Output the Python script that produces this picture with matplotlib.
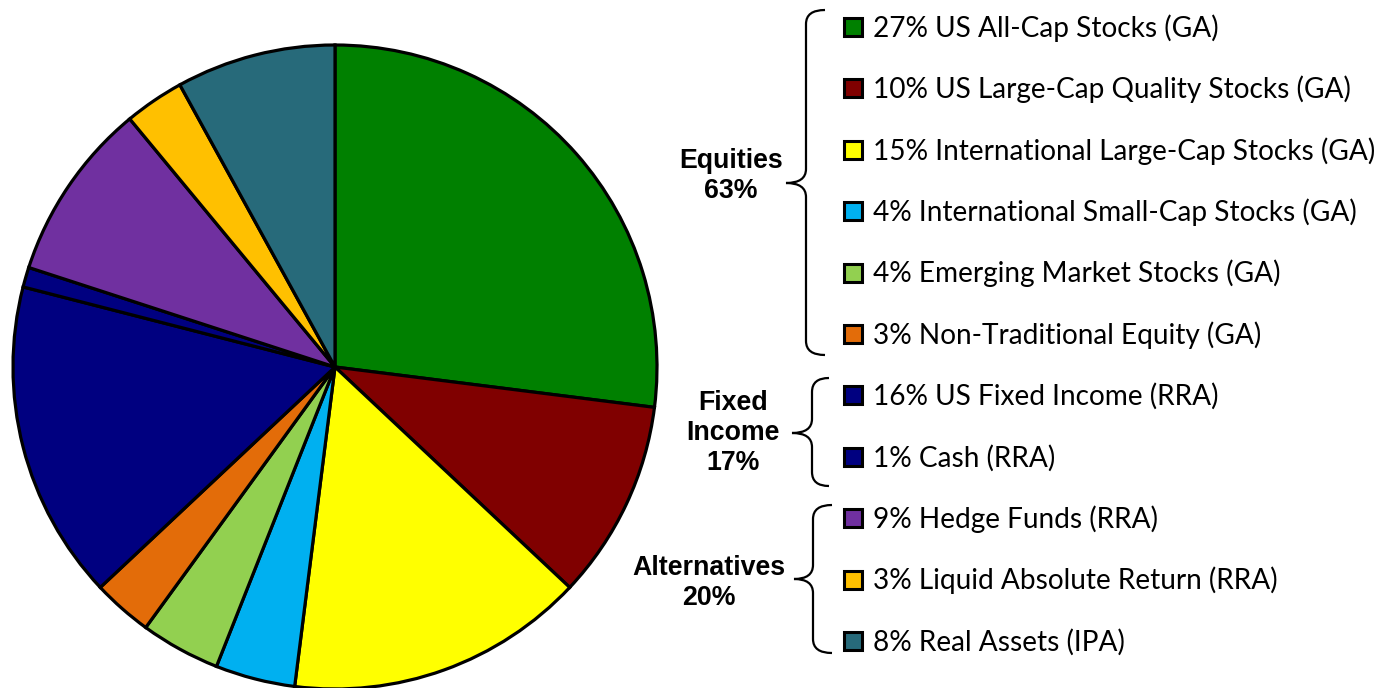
import matplotlib
matplotlib.use("Agg")
import matplotlib.pyplot as plt
from matplotlib.patches import Rectangle, PathPatch
from matplotlib.path import Path

# ---- data ----
labels = ["27% US All-Cap Stocks (GA)",
          "10% US Large-Cap Quality Stocks (GA)",
          "15% International Large-Cap Stocks (GA)",
          "4% International Small-Cap Stocks (GA)",
          "4% Emerging Market Stocks (GA)",
          "3% Non-Traditional Equity (GA)",
          "16% US Fixed Income (RRA)",
          "1% Cash (RRA)",
          "9% Hedge Funds (RRA)",
          "3% Liquid Absolute Return (RRA)",
          "8% Real Assets (IPA)"]
values = [27, 10, 15, 4, 4, 3, 16, 1, 9, 3, 8]
colors = ["#008000", "#800000", "#FFFF00", "#00B0F0", "#92D050", "#E36C09",
          "#000080", "#000080", "#7030A0", "#FFC000", "#276A7A"]
groups = ["Equities\n63%", "Fixed\nIncome\n17%", "Alternatives\n20%"]

W, H = 1389, 688
fig = plt.figure(figsize=(W / 100, H / 100), dpi=100)
ax = fig.add_axes([0, 0, 1, 1])

cx, cy, r = 335, 367, 322
ax.pie(values, colors=colors, center=(cx, cy), radius=r, startangle=-90,
       counterclock=True, frame=True,
       wedgeprops=dict(edgecolor="black", linewidth=2.3))
ax.set_xlim(0, W)
ax.set_ylim(H, 0)
ax.set_aspect("equal")
ax.axis("off")

# legend rows
row_y0, row_dy = 27, 61.4
for i, (lab, col) in enumerate(zip(labels, colors)):
    y = row_y0 + i * row_dy
    ax.add_patch(Rectangle((844, y - 9), 18, 18, facecolor=col,
                           edgecolor="black", linewidth=2.2, zorder=5))
    ax.text(873, y + 1, lab, fontsize=20.2, family="Lato", va="center",
            ha="left", color="black")

def brace(xv, ytop, ybot, ymid, xtip, xend, rr=14):
    verts = [(xend, ytop), (xv, ytop), (xv, ytop + rr),
             (xv, ymid - rr), (xv, ymid), (xtip, ymid),
             (xv, ymid), (xv, ymid + rr),
             (xv, ybot - rr), (xv, ybot), (xend, ybot)]
    codes = [Path.MOVETO, Path.CURVE3, Path.CURVE3,
             Path.LINETO, Path.CURVE3, Path.CURVE3,
             Path.CURVE3, Path.CURVE3,
             Path.LINETO, Path.CURVE3, Path.CURVE3]
    ax.add_patch(PathPatch(Path(verts, codes), facecolor="none",
                           edgecolor="black", linewidth=1.6,
                           capstyle="butt", joinstyle="miter"))

brace(806, 10, 355, 183, 786, 825)
brace(812, 378, 486, 433, 792, 829)
brace(813, 505, 653, 579, 794, 832)

label_pos = [(783, 176), (780, 433), (785, 583)]
for (x, y), g in zip(label_pos, groups):
    ax.text(x, y, g, fontsize=19.3, family="Liberation Sans", weight="bold",
            ha="right", va="center", multialignment="center",
            linespacing=1.2)

fig.savefig("out.png", dpi=100)
